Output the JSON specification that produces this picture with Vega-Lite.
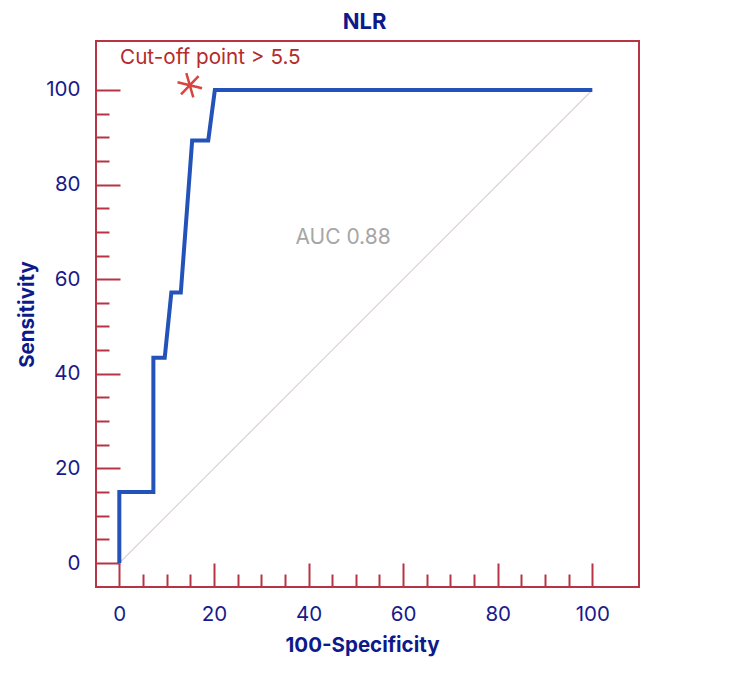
{
  "$schema": "https://vega.github.io/schema/vega-lite/v6.json",
  "width": 543,
  "height": 546,
  "autosize": {"type": "none"},
  "padding": {"left": 96, "top": 41, "right": 111, "bottom": 86},
  "background": "white",
  "config": {"view": {"stroke": "#b73445", "strokeWidth": 2}, "font": "Inter"},
  "title": {"text": "NLR", "anchor": "middle", "baseline": "alphabetic", "offset": 8, "dx": -3, "dy": 18, "fontSize": 22, "fontWeight": "bold", "color": "#0d1a8a", "font": "Inter"},
  "datasets": {
    "roc": [
      {"step": 1, "x": 0, "y": 0},
      {"step": 2, "x": 0, "y": 15},
      {"step": 3, "x": 7.2, "y": 15},
      {"step": 4, "x": 7.2, "y": 43.4},
      {"step": 5, "x": 9.6, "y": 43.4},
      {"step": 6, "x": 11, "y": 57.2},
      {"step": 7, "x": 13, "y": 57.2},
      {"step": 8, "x": 15.4, "y": 89.3},
      {"step": 9, "x": 18.8, "y": 89.3},
      {"step": 10, "x": 20.2, "y": 100},
      {"step": 11, "x": 100, "y": 100}
    ],
    "diag": [{"step": 1, "x": 0, "y": 0}, {"step": 2, "x": 100, "y": 100}],
    "cut": [{"x": 14.9, "y": 101}],
    "notes": [
      {"x": 0.15, "y": 105.5, "label": "Cut-off point > 5.5"}
    ],
    "auc": [{"x": 47.3, "y": 68.8, "label": "AUC 0.88"}]
  },
  "layer": [
    {
      "encoding": {
        "x": {
          "field": "x", "type": "quantitative",
          "scale": {"domain": [-4.93, 109.87], "nice": false, "zero": false},
          "axis": {
            "orient": "bottom", "values": [0, 20, 40, 60, 80, 100],
            "tickSize": -24, "tickWidth": 2, "tickColor": "#b73445",
            "domain": false, "grid": false, "labelPadding": 41,
            "labelFont": "Inter", "labelFontSize": 20.5, "labelColor": "#1a1a8a",
            "labelFlush": false, "labelOverlap": false,
            "title": "100-Specificity", "titleFont": "Inter", "titleFontSize": 20.5,
            "titleFontWeight": "bold", "titleColor": "#0d1a8a",
            "titleX": 266, "titleY": 58, "titleBaseline": "middle", "titleAlign": "center"
          }
        },
        "y": {
          "field": "y", "type": "quantitative",
          "scale": {"domain": [-5.07, 110.35], "nice": false, "zero": false},
          "axis": {
            "orient": "left", "values": [0, 20, 40, 60, 80, 100],
            "tickSize": -24, "tickWidth": 2, "tickColor": "#b73445",
            "domain": false, "grid": false, "labelPadding": 40,
            "labelFont": "Inter", "labelFontSize": 20.5, "labelColor": "#1a1a8a",
            "labelFlush": false, "labelOverlap": false,
            "title": "Sensitivity", "titleFont": "Inter", "titleFontSize": 20.5,
            "titleFontWeight": "bold", "titleColor": "#0d1a8a",
            "titleX": -69, "titleY": 273, "titleBaseline": "middle", "titleAlign": "center", "titleAngle": -90
          }
        }
      },
      "layer": [
        {
          "data": {"name": "diag"},
          "mark": {"type": "line", "color": "#dcd2d6", "strokeWidth": 1.2},
          "encoding": {"order": {"field": "step", "type": "quantitative"}}
        },
        {
          "data": {"name": "roc"},
          "mark": {"type": "line", "color": "#2352b8", "strokeWidth": 4},
          "encoding": {"order": {"field": "step", "type": "quantitative"}}
        },
        {
          "data": {"name": "cut"},
          "mark": {"type": "point", "shape": "M0,-1L0,1M-0.866,-0.5L0.866,0.5M-0.866,0.5L0.866,-0.5", "angle": -16, "size": 640, "filled": false, "stroke": "#d8453f", "strokeWidth": 2.5, "opacity": 1}
        },
        {
          "data": {"name": "notes"},
          "mark": {"type": "text", "align": "left", "baseline": "alphabetic", "font": "Inter", "fontSize": 20.7, "color": "#b52a2a"},
          "encoding": {"text": {"field": "label"}}
        },
        {
          "data": {"name": "auc"},
          "mark": {"type": "text", "align": "center", "baseline": "middle", "font": "Inter", "fontSize": 21, "color": "#a6a6a6"},
          "encoding": {"text": {"field": "label"}}
        }
      ]
    },
    {
      "data": {"name": "diag"},
      "mark": {"type": "point", "opacity": 0},
      "encoding": {
        "x": {
          "field": "x", "type": "quantitative",
          "scale": {"domain": [-4.93, 109.87], "nice": false, "zero": false},
          "axis": {
            "orient": "bottom", "values": [5, 10, 15, 25, 30, 35, 45, 50, 55, 65, 70, 75, 85, 90, 95],
            "tickSize": -13, "tickWidth": 2, "tickColor": "#b73445",
            "domain": false, "grid": false, "labels": false, "title": null
          }
        },
        "y": {
          "field": "y", "type": "quantitative",
          "scale": {"domain": [-5.07, 110.35], "nice": false, "zero": false},
          "axis": {
            "orient": "left", "values": [5, 10, 15, 25, 30, 35, 45, 50, 55, 65, 70, 75, 85, 90, 95],
            "tickSize": -13, "tickWidth": 2, "tickColor": "#b73445",
            "domain": false, "grid": false, "labels": false, "title": null
          }
        }
      }
    }
  ],
  "resolve": {"axis": {"x": "independent", "y": "independent"}}
}
